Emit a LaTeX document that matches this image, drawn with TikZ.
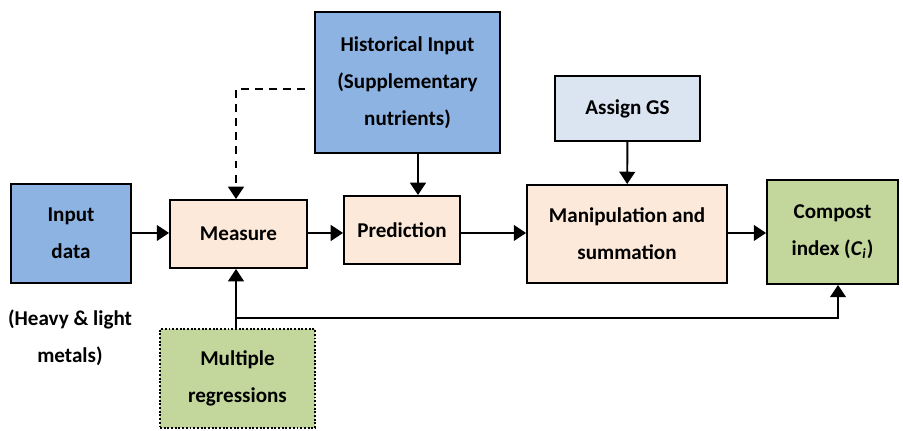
\documentclass[tikz,border=0pt]{standalone}
\usepackage{fontspec}
\setmainfont{Carlito}
\usetikzlibrary{arrows.meta}
\definecolor{boxblue}{HTML}{8DB3E2}
\definecolor{boxpeach}{HTML}{FDE9D9}
\definecolor{boxpale}{HTML}{DBE5F1}
\definecolor{boxgreen}{HTML}{C3D69B}
\begin{document}
\begin{tikzpicture}[x=0.02cm,y=-0.02cm,
  every node/.style={font=\fontsize{12}{21}\selectfont\bfseries,align=center},
  blk/.style={draw,line width=1.1pt,inner sep=0pt},
  flow/.style={line width=1.1pt,-{Triangle[length=7pt,width=9pt]}}]
\useasboundingbox (0,0) rectangle (903,431);
  \node (inp) at (71,233.5) [blk,fill=boxblue,minimum width=2.4cm,minimum height=1.98cm] {Input\\data};
  \node (meas) at (238.5,234) [blk,fill=boxpeach,minimum width=2.74cm,minimum height=1.36cm] {Measure};
  \node (pred) at (402,230) [blk,fill=boxpeach,minimum width=2.32cm,minimum height=1.36cm] {Prediction};
  \node (manip) at (627,234) [blk,fill=boxpeach,minimum width=4cm,minimum height=1.96cm] {Manipulation and\\summation};
  \node (comp) at (832.5,232) [blk,fill=boxgreen,minimum width=2.62cm,minimum height=2.08cm] {Compost\\index (\textit{C}\textsubscript{\textit{i}})};
  \node (hist) at (407.5,82.5) [blk,fill=boxblue,minimum width=3.7cm,minimum height=2.82cm] {Historical Input\\(Supplementary\\nutrients)};
  \node (gs) at (627.5,108.5) [blk,fill=boxpale,minimum width=2.9cm,minimum height=1.3cm] {Assign GS};
  \node (reg) at (237.5,378.5) [blk,densely dotted,fill=boxgreen,minimum width=3.1cm,minimum height=1.98cm] {Multiple\\regressions};
  \node (metals) at (70,338) {(Heavy \& light\\metals)};
  \coordinate (dstart) at (305,89);
  \coordinate (split) at (237,318);
  \draw [flow] (inp.east |- 0,233) to (meas.west |- 0,233);
  \draw [flow] (meas.east |- 0,233) to (pred.west |- 0,233);
  \draw [flow] (pred.east |- 0,233) to (manip.west |- 0,233);
  \draw [flow] (manip.east |- 0,233) to (comp.west |- 0,233);
  \draw [flow] (hist.south -| 418,0) to (pred.north -| 418,0);
  \draw [flow] (gs) to (manip);
  \draw [flow,dash pattern=on 4.5pt off 3.5pt] (dstart) -| (meas.north -| 236,0);
  \draw [flow] (reg.north -| 236,0) to (meas.south -| 236,0);
  \draw [flow] (split) -| (comp.south -| 838,0);
\end{tikzpicture}
\end{document}
